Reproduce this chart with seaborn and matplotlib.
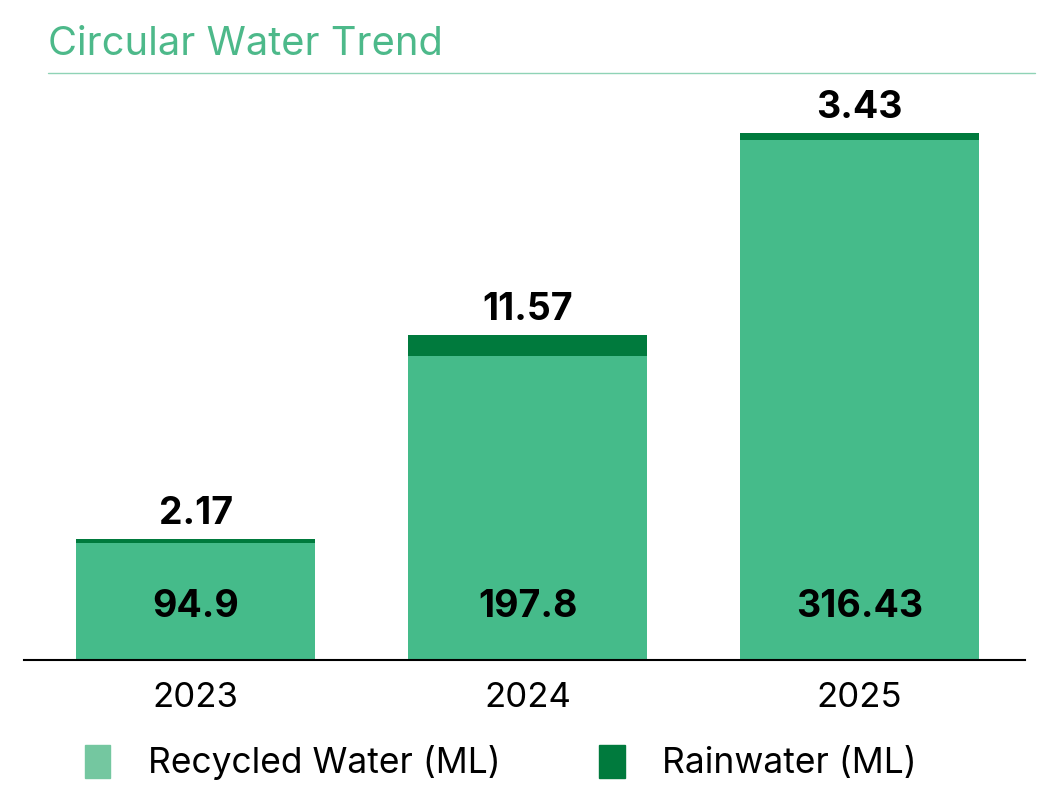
import matplotlib
matplotlib.use('agg')
import matplotlib.pyplot as plt
from matplotlib.patches import Patch
import seaborn as sns
import pandas as pd

# chart data
years = ['2023', '2024', '2025']
recycled = [94.9, 197.8, 316.43]
rainwater = [2.17, 11.57, 3.43]

LIGHT = '#45BB8A'
DARK = '#007A3D'
TITLE_C = '#4DB98A'

sns.set_theme(style='white')
plt.rcParams['font.family'] = ['Inter', 'DejaVu Sans']
plt.rcParams['text.color'] = 'black'

df = pd.DataFrame({'year': years, 'recycled': recycled, 'rainwater': rainwater})
df['total'] = df['recycled'] + df['rainwater']

fig = plt.figure(figsize=(10.59, 8.06), dpi=100)
ax = fig.add_axes([0.0227, 0.181, 0.945, 0.72])

# stacked look: total in dark, recycled drawn over it
sns.barplot(data=df, x='year', y='total', color=DARK, width=0.72, saturation=1,
            linewidth=0, ax=ax)
sns.barplot(data=df, x='year', y='recycled', color=LIGHT, width=0.72, saturation=1,
            linewidth=0, ax=ax)

ax.set_ylim(30.8, 349.3)
ax.set_xlim(-0.517, 2.498)
ax.set_xlabel('')
ax.set_ylabel('')
ax.set_yticks([])
ax.tick_params(axis='x', length=0, pad=16, labelsize=25, labelcolor='black')
for s in ['top', 'right', 'left']:
    ax.spines[s].set_visible(False)
ax.spines['bottom'].set_color('black')
ax.spines['bottom'].set_linewidth(1.5)

for i, row in df.iterrows():
    ax.annotate(f"{row['rainwater']:g}", (i, row['total']), xytext=(0, 5),
                textcoords='offset points', ha='center', va='bottom',
                fontsize=27, fontweight='bold', color='black')
    ax.text(i, 60, f"{row['recycled']:g}", ha='center', va='center',
            fontsize=27, fontweight='bold', color='black')

# title and rule
fig.text(0.045, 0.945, 'Circular Water Trend', color=TITLE_C, fontsize=28.7,
         ha='left', va='center')
fig.add_artist(plt.Line2D([0.045, 0.977], [0.909, 0.909], color='#8FD3B6', lw=1))

handles = [Patch(color='#74C7A0', label='Recycled Water (ML)'),
           Patch(color=DARK, label='Rainwater (ML)')]
fig.legend(handles=handles, loc='center left', bbox_to_anchor=(0.05, 0.054),
           ncol=2, frameon=False, fontsize=25.5, handlelength=0.72, handleheight=1.05,
           handletextpad=1.05, columnspacing=2.8, labelcolor='black')

fig.savefig('out.png', dpi=100)
